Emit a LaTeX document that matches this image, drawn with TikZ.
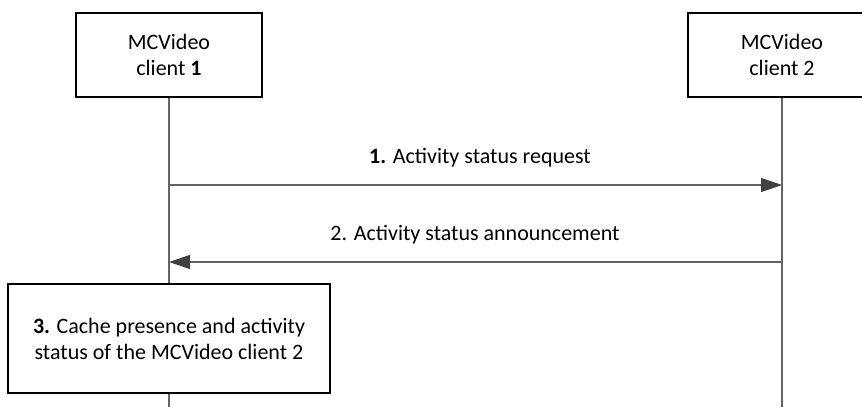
\documentclass[tikz,border=0pt]{standalone}
\usepackage{fontspec}
\setmainfont{Carlito}
\usetikzlibrary{arrows.meta, positioning}
\definecolor{LineGray}{RGB}{100,100,100}
\definecolor{TipGray}{RGB}{64,64,64}

\begin{document}
\begin{tikzpicture}[x=1pt, y=-1pt,
  actor/.style={draw=black, line width=1.2pt, fill=white, align=center, font=\fontsize{22}{26}\selectfont},
  lifeline/.style={draw=LineGray, line width=1.2pt},
  msg/.style={draw=LineGray, line width=1.2pt, -{Triangle[length=21pt, width=14pt, color=TipGray]}},
  msglabel/.style={font=\fontsize{22}{26}\selectfont}]
\useasboundingbox (0,0) rectangle (862,407);
% participants
\node[actor, minimum width=186pt, minimum height=84pt] (client1) at (169,55) {MCVideo\\client \textbf{1}};
\node[actor, minimum width=188pt, minimum height=84pt] (client2) at (782,55) {MCVideo\\client 2};
\node[actor, minimum width=322pt, minimum height=109pt] (cache) at (169,338.5) {\textbf{3.} Cache presence and activity\\status of the MCVideo client 2};
% lifelines
\draw[lifeline] (client1.south) -- (cache.north);
\draw[lifeline] (cache.south) -- (client1.south |- 0,407);
\draw[lifeline] (client2.south) -- (client2.south |- 0,407);
% messages
\draw[msg] (client1.south |- 0,185) -- (client2.south |- 0,185);
\node[msglabel] (reqlabel) at (480,158) {\textbf{1.} Activity status request};
\draw[msg] (client2.south |- 0,262) -- (client1.south |- 0,262);
\node[msglabel] (annlabel) at (475,235) {2. Activity status announcement};
\end{tikzpicture}
\end{document}
